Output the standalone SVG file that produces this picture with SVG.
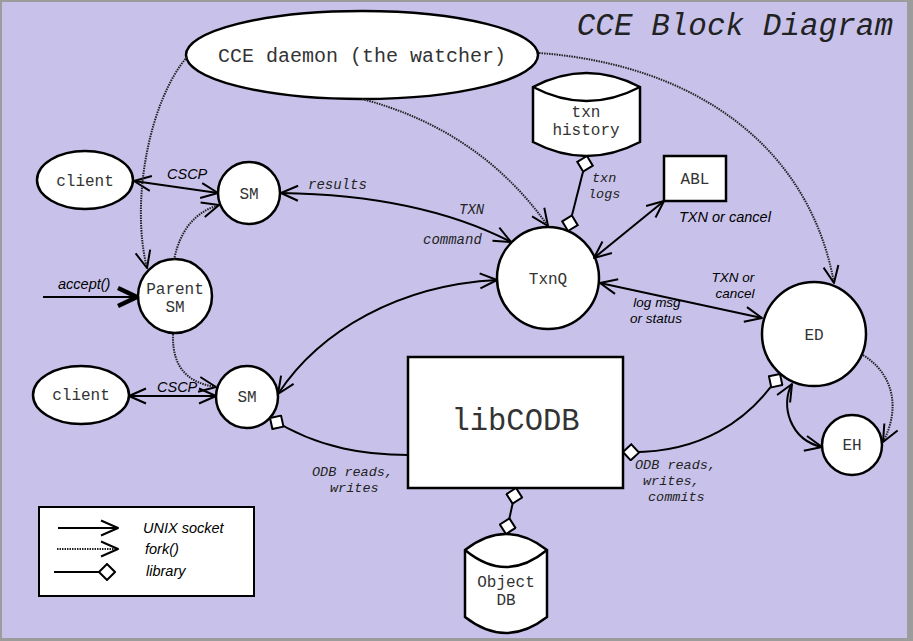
<svg xmlns="http://www.w3.org/2000/svg" width="913" height="641" viewBox="0 0 913 641">
<style>
.node{fill:#fff;stroke:#000;stroke-width:2.5}
.nt{font-family:"Liberation Mono",monospace;font-size:16px;fill:#333;text-anchor:middle}
.sock{fill:none;stroke:#000;stroke-width:2}
.fork{fill:none;stroke:#222;stroke-width:2;stroke-dasharray:1.5 1}
.lib{fill:none;stroke:#000;stroke-width:2}
.ls{font-family:"Liberation Sans",Arial,sans-serif;font-style:italic;font-size:14.5px;fill:#000}
.lm{font-family:"Liberation Mono",monospace;font-style:italic;font-size:14px;fill:#222}
.sm{font-size:13.5px}
</style>
<defs>
<marker id="arr" viewBox="0 0 20 20" refX="18" refY="10" markerWidth="20" markerHeight="20" markerUnits="userSpaceOnUse" orient="auto-start-reverse">
<path d="M1,2.5 L18,10 L1,17.5" fill="none" stroke="#000" stroke-width="2" stroke-linejoin="round"/>
</marker>
<marker id="arrBig" viewBox="0 0 24 24" refX="21" refY="12" markerWidth="24" markerHeight="24" markerUnits="userSpaceOnUse" orient="auto">
<path d="M2,3 L21,12 L2,21" fill="none" stroke="#000" stroke-width="4.5" stroke-linejoin="round"/>
</marker>
<marker id="dia" viewBox="0 0 18 18" refX="17" refY="9" markerWidth="18" markerHeight="18" markerUnits="userSpaceOnUse" orient="auto-start-reverse">
<path d="M1,9 L9,1 L17,9 L9,17 Z" fill="#fff" stroke="#000" stroke-width="2"/>
</marker>
</defs>
<rect x="0" y="0" width="913" height="641" fill="#9c9c9c"/>
<rect x="2" y="2" width="905" height="636" fill="#c8c2ea"/>
<text x="893" y="35" text-anchor="end" font-family="Liberation Mono,monospace" font-style="italic" font-size="31" fill="#222">CCE Block Diagram</text>

<g id="daemon"><ellipse class="node" cx="362" cy="55" rx="176" ry="44"/><text class="nt" x="362" y="62" style="font-size:20px">CCE daemon (the watcher)</text></g>
<g id="client1"><ellipse class="node" cx="85" cy="180" rx="48" ry="29"/><text class="nt" x="85" y="186">client</text></g>
<g id="sm1"><circle class="node" cx="249" cy="193" r="31"/><text class="nt" x="249" y="199">SM</text></g>
<g id="parentsm"><circle class="node" cx="175" cy="296" r="37"/><text class="nt" x="175" y="294">Parent<tspan x="175" dy="18">SM</tspan></text></g>
<g id="client2"><ellipse class="node" cx="81" cy="395" rx="48" ry="29"/><text class="nt" x="81" y="400">client</text></g>
<g id="sm2"><circle class="node" cx="247" cy="397" r="31"/><text class="nt" x="247" y="402">SM</text></g>
<g id="txnq"><circle class="node" cx="548" cy="278" r="51"/><text class="nt" x="548" y="284">TxnQ</text></g>
<g id="txnhistory"><path class="node" d="M533,87 Q586.5,59 640,87 L640,142 Q586.5,170 533,142 Z"/><path class="node" fill="none" d="M533,87 Q586.5,115 640,87"/><text class="nt" x="586" y="117">txn<tspan x="586" dy="18">history</tspan></text></g>
<g id="abl"><rect class="node" x="664" y="156" width="62" height="45"/><text class="nt" x="695" y="184">ABL</text></g>
<g id="ed"><circle class="node" cx="814" cy="334" r="52"/><text class="nt" x="814" y="340">ED</text></g>
<g id="eh"><circle class="node" cx="852" cy="445" r="30"/><text class="nt" x="852" y="450">EH</text></g>
<g id="libcodb"><rect class="node" x="408" y="357" width="215" height="131"/><text class="nt" x="515.5" y="430" style="font-size:30.5px">libCODB</text></g>
<g id="objectdb"><path class="node" d="M465,550 Q506,518 547,550 L547,617 Q506,649 465,617 Z"/><path class="node" fill="none" d="M465,550 Q506,584 547,550"/><text class="nt" x="506" y="587">Object<tspan x="506" dy="18">DB</tspan></text></g>

<g id="connectors">
<path class="sock" d="M134,181 L218,193" marker-start="url(#arr)" marker-end="url(#arr)"/>
<path class="sock" d="M129,396 L216,396" marker-start="url(#arr)" marker-end="url(#arr)"/>
<path class="sock" d="M281,193 Q420,195 511,242" marker-start="url(#arr)" marker-end="url(#arr)"/>
<path class="sock" d="M278,394 C320,330 400,285 497,280" marker-start="url(#arr)" marker-end="url(#arr)"/>
<path class="sock" d="M594,258 L664,201" marker-start="url(#arr)" marker-end="url(#arr)"/>
<path class="sock" d="M600,283 L762,318" marker-start="url(#arr)" marker-end="url(#arr)"/>
<path class="sock" d="M792,384 C780,405 790,440 822,447" marker-start="url(#arr)" marker-end="url(#arr)"/>
<path class="sock" d="M43,297 L137,297" stroke-width="5" marker-end="url(#arrBig)"/>
<path class="fork" d="M863,355 C895,375 900,410 883,442" marker-end="url(#arr)"/>
<path class="fork" d="M539,53 C700,65 810,150 834,283" marker-end="url(#arr)"/>
<path class="fork" d="M362,99 Q480,130 548,226" marker-end="url(#arr)"/>
<path class="fork" d="M187,57 C150,100 130,200 147,268" marker-end="url(#arr)"/>
<path class="fork" d="M174,260 C180,230 195,212 219,205" marker-end="url(#arr)"/>
<path class="fork" d="M173,334 C172,370 190,383 216,387" marker-end="url(#arr)"/>
<path class="lib" d="M587,156 L568,231" marker-start="url(#dia)" marker-end="url(#dia)"/>
<path class="lib" d="M270,418 C320,450 370,455 408,455" marker-start="url(#dia)"/>
<path class="lib" d="M623,452 C700,455 750,420 780,374" marker-start="url(#dia)" marker-end="url(#dia)"/>
<path class="lib" d="M516,488 L506,534" marker-start="url(#dia)" marker-end="url(#dia)"/>
<text class="ls" x="167" y="179">CSCP</text>
<text class="ls" x="157" y="392">CSCP</text>
<text class="ls" x="58" y="289">accept()</text>
<text class="lm" x="308" y="189">results</text>
<text class="lm" x="459" y="214">TXN</text>
<text class="lm" x="423" y="244">command</text>
<text class="lm sm" x="592" y="182">txn<tspan x="588" dy="16">logs</tspan></text>
<text class="ls" x="679" y="222">TXN or cancel</text>
<text class="ls sm" x="733" y="282" text-anchor="middle">TXN or<tspan x="735" dy="16">cancel</tspan></text>
<text class="ls sm" x="657" y="307" text-anchor="middle">log msg<tspan x="656" dy="16">or status</tspan></text>
<text class="lm sm" x="312" y="476">ODB reads,<tspan x="330" dy="16">writes</tspan></text>
<text class="lm sm" x="635" y="469">ODB reads,<tspan x="643" dy="16">writes,</tspan><tspan x="648" dy="16">commits</tspan></text>
</g>

<g id="legend">
<rect x="39" y="507" width="215" height="89" fill="#fff" stroke="#000" stroke-width="2"/>
<path class="sock" d="M58,528 L118,528" marker-end="url(#arr)"/>
<path class="fork" d="M57,549 L118,549" marker-end="url(#arr)"/>
<path class="lib" d="M54,572 L115,572" marker-end="url(#dia)"/>
<text class="ls" x="143" y="533">UNIX socket</text>
<text class="ls" x="145" y="554">fork()</text>
<text class="ls" x="146" y="576">library</text>
</g>
</svg>
